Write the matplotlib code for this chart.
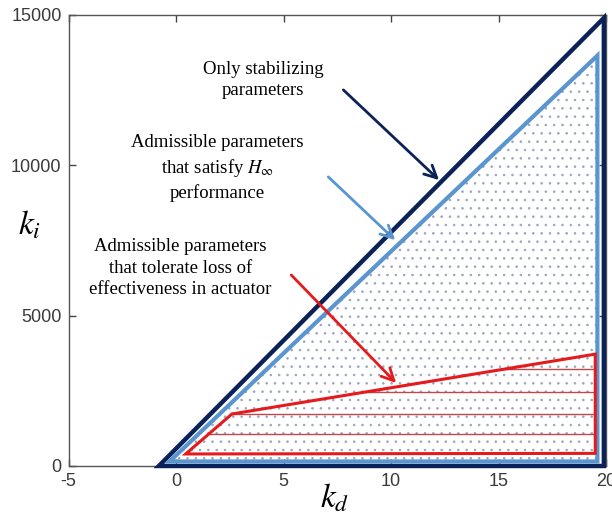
import matplotlib.pyplot as plt
import numpy as np

# Stability region boundaries (kd, ki)
kd_stab = [-0.8, 19.9, 19.9]
ki_stab = [0, 14900, 0]

kd_hinf = [-0.3, 19.6, 19.6]
ki_hinf = [150, 13650, 150]

kd_fault = [0.45, 2.6, 19.5, 19.5]
ki_fault = [400, 1730, 3720, 420]

# horizontal hatch lines inside the fault tolerant region
hatch_levels = [1060, 1730, 2460, 3220]

xticks = [-5, 0, 5, 10, 15, 20]
yticks = [0, 5000, 10000, 15000]

plt.rcParams['mathtext.fontset'] = 'stix'
plt.rcParams['axes.unicode_minus'] = False
plt.rcParams['hatch.linewidth'] = 0.6

fig = plt.figure(figsize=(6.12, 5.17), dpi=100)
ax = fig.add_axes([68.5 / 612, 51 / 517, 537.5 / 612, 451 / 517])

navy = '#0b2258'
lblue = '#5b95d0'
red = '#e41a1c'

# dotted H-inf region
ax.fill(kd_hinf, ki_hinf, facecolor='white', edgecolor='#9aa4bc', hatch='..', lw=0, zorder=1)

ax.fill(kd_stab, ki_stab, facecolor='none', edgecolor=navy, lw=3.2, joinstyle='miter', zorder=3, clip_on=False)
ax.fill(kd_hinf, ki_hinf, facecolor='none', edgecolor=lblue, lw=3.0, joinstyle='miter', zorder=3)

# hatch lines, left end on the fault region boundary
for lvl in hatch_levels:
    left = np.interp(lvl, ki_fault[:3], kd_fault[:3])
    ax.plot([left, kd_fault[2]], [lvl, lvl], color='#c0484a', lw=1.0, zorder=2)
ax.fill(kd_fault, ki_fault, facecolor='none', edgecolor=red, lw=2.2, joinstyle='miter', zorder=4)

# annotations
tfont = dict(family='Liberation Serif', size=13.5, ha='center', va='center', linespacing=1.35)
ax.text(4.06, 12840, 'Only stabilizing\nparameters', **tfont)
ax.text(1.92, 9910, 'Admissible parameters\nthat satisfy $H_\\infty$\nperformance', **tfont)
ax.text(0.2, 6585, 'Admissible parameters\nthat tolerate loss of\neffectiveness in actuator', **tfont)

ax.annotate('', xy=(12.33, 9446), xytext=(7.69, 12572),
            arrowprops=dict(arrowstyle='->', color=navy, lw=2.0, mutation_scale=22), zorder=5)
ax.annotate('', xy=(10.29, 7450), xytext=(6.99, 9679),
            arrowprops=dict(arrowstyle='->', color=lblue, lw=2.0, mutation_scale=22), zorder=5)
ax.annotate('', xy=(10.33, 2694), xytext=(5.27, 6419),
            arrowprops=dict(arrowstyle='->', color=red, lw=2.0, mutation_scale=22), zorder=5)

ax.set_xlim(-5, 20)
ax.set_ylim(0, 15000)
ax.set_xticks(xticks)
ax.set_yticks(yticks)
ax.tick_params(direction='in', top=True, right=True, length=5, width=1, color='#444444',
               labelsize=13, labelcolor='#3a3a3a')
ax.tick_params(axis='x', pad=5)
ax.tick_params(axis='y', pad=5)
for lab in ax.get_xticklabels() + ax.get_yticklabels():
    lab.set_family('Liberation Sans')
for sp in ax.spines.values():
    sp.set_color('#555555')
    sp.set_linewidth(1.0)

ax.set_xlabel('$k_d$', fontsize=24, va='center')
ax.set_ylabel('$k_i$', fontsize=24, rotation=0, va='center', ha='center')
ax.yaxis.set_label_coords(-0.072, 0.535)
ax.xaxis.set_label_coords(0.495, -0.07)

fig.savefig('out.png', dpi=100)
